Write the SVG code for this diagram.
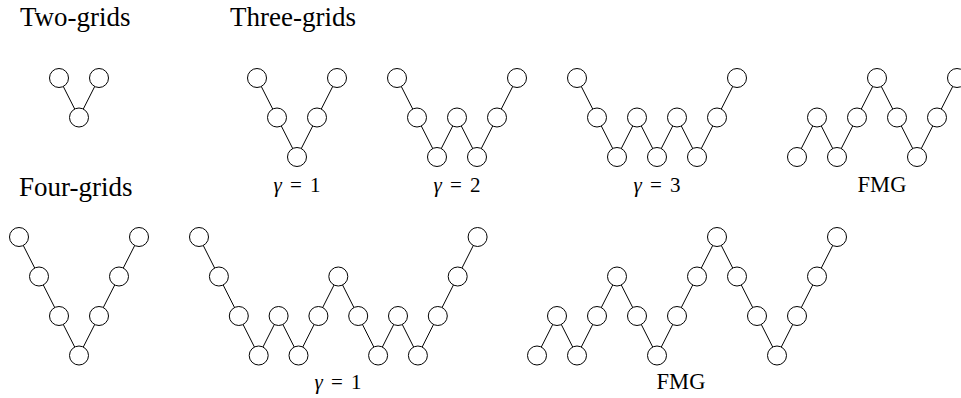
<svg xmlns="http://www.w3.org/2000/svg" width="961" height="398" viewBox="0 0 961 398">
<style>
.n{fill:#fff;stroke:#000;stroke-width:1}
.e{stroke:#000;stroke-width:1;fill:none}
.h{font-family:"Liberation Serif",serif;font-size:27px;fill:#000}
.l{font-family:"Liberation Serif",serif;font-size:21px;fill:#000;text-anchor:middle}
.f{font-size:22.5px}
.g{font-style:italic}
</style>
<rect width="961" height="398" fill="#fff"/>
<g id="headings">
<text class="h" x="20" y="26">Two-grids</text>
<text class="h" x="230" y="26">Three-grids</text>
<text class="h" x="19" y="196">Four-grids</text>
</g>
<g id="connectors">
<polyline class="e" points="59,78 79,117.5 99,78"/>
<polyline class="e" points="257,78 277,117.5 297,157 317,117.5 337,78"/>
<polyline class="e" points="397,78 417,117.5 437,157 457,117.5 477,157 497,117.5 517,78"/>
<polyline class="e" points="577,78 597,117.5 617,157 637,117.5 657,157 677,117.5 697,157 717,117.5 737,78"/>
<polyline class="e" points="797,157 817,117.5 837,157 857,117.5 877,78 897,117.5 917,157 937,117.5 957,78"/>
<polyline class="e" points="19,237 39,276.5 59,316 79,355.5 99,316 119,276.5 139,237"/>
<polyline class="e" points="199,237 218.9,276.5 238.8,316 258.7,355.5 278.6,316 298.5,355.5 318.4,316 338.3,276.5 358.2,316 378.1,355.5 398,316 417.9,355.5 437.8,316 457.7,276.5 477.6,237"/>
<polyline class="e" points="537,355.5 557,316 577,355.5 597,316 617,276.5 637,316 657,355.5 677,316 697,276.5 717,237 737,276.5 757,316 777,355.5 797,316 817,276.5 837,237"/>
</g>
<g id="two-grids">
<g id="t2-1"><circle class="n" cx="59" cy="78" r="9.5"/></g>
<g id="t2-2"><circle class="n" cx="79" cy="117.5" r="9.5"/></g>
<g id="t2-3"><circle class="n" cx="99" cy="78" r="9.5"/></g>
</g>
<g id="three-v">
<g id="v3-1"><circle class="n" cx="257" cy="78" r="9.5"/></g>
<g id="v3-2"><circle class="n" cx="277" cy="117.5" r="9.5"/></g>
<g id="v3-3"><circle class="n" cx="297" cy="157" r="9.5"/></g>
<g id="v3-4"><circle class="n" cx="317" cy="117.5" r="9.5"/></g>
<g id="v3-5"><circle class="n" cx="337" cy="78" r="9.5"/></g>
</g>
<g id="three-w2">
<g id="w2-1"><circle class="n" cx="397" cy="78" r="9.5"/></g>
<g id="w2-2"><circle class="n" cx="417" cy="117.5" r="9.5"/></g>
<g id="w2-3"><circle class="n" cx="437" cy="157" r="9.5"/></g>
<g id="w2-4"><circle class="n" cx="457" cy="117.5" r="9.5"/></g>
<g id="w2-5"><circle class="n" cx="477" cy="157" r="9.5"/></g>
<g id="w2-6"><circle class="n" cx="497" cy="117.5" r="9.5"/></g>
<g id="w2-7"><circle class="n" cx="517" cy="78" r="9.5"/></g>
</g>
<g id="three-w3">
<g id="w3-1"><circle class="n" cx="577" cy="78" r="9.5"/></g>
<g id="w3-2"><circle class="n" cx="597" cy="117.5" r="9.5"/></g>
<g id="w3-3"><circle class="n" cx="617" cy="157" r="9.5"/></g>
<g id="w3-4"><circle class="n" cx="637" cy="117.5" r="9.5"/></g>
<g id="w3-5"><circle class="n" cx="657" cy="157" r="9.5"/></g>
<g id="w3-6"><circle class="n" cx="677" cy="117.5" r="9.5"/></g>
<g id="w3-7"><circle class="n" cx="697" cy="157" r="9.5"/></g>
<g id="w3-8"><circle class="n" cx="717" cy="117.5" r="9.5"/></g>
<g id="w3-9"><circle class="n" cx="737" cy="78" r="9.5"/></g>
</g>
<g id="three-fmg">
<g id="f3-1"><circle class="n" cx="797" cy="157" r="9.5"/></g>
<g id="f3-2"><circle class="n" cx="817" cy="117.5" r="9.5"/></g>
<g id="f3-3"><circle class="n" cx="837" cy="157" r="9.5"/></g>
<g id="f3-4"><circle class="n" cx="857" cy="117.5" r="9.5"/></g>
<g id="f3-5"><circle class="n" cx="877" cy="78" r="9.5"/></g>
<g id="f3-6"><circle class="n" cx="897" cy="117.5" r="9.5"/></g>
<g id="f3-7"><circle class="n" cx="917" cy="157" r="9.5"/></g>
<g id="f3-8"><circle class="n" cx="937" cy="117.5" r="9.5"/></g>
<g id="f3-9"><circle class="n" cx="957" cy="78" r="9.5"/></g>
</g>
<g id="four-v">
<g id="v4-1"><circle class="n" cx="19" cy="237" r="9.5"/></g>
<g id="v4-2"><circle class="n" cx="39" cy="276.5" r="9.5"/></g>
<g id="v4-3"><circle class="n" cx="59" cy="316" r="9.5"/></g>
<g id="v4-4"><circle class="n" cx="79" cy="355.5" r="9.5"/></g>
<g id="v4-5"><circle class="n" cx="99" cy="316" r="9.5"/></g>
<g id="v4-6"><circle class="n" cx="119" cy="276.5" r="9.5"/></g>
<g id="v4-7"><circle class="n" cx="139" cy="237" r="9.5"/></g>
</g>
<g id="four-w">
<g id="w4-1"><circle class="n" cx="199" cy="237" r="9.5"/></g>
<g id="w4-2"><circle class="n" cx="218.9" cy="276.5" r="9.5"/></g>
<g id="w4-3"><circle class="n" cx="238.8" cy="316" r="9.5"/></g>
<g id="w4-4"><circle class="n" cx="258.7" cy="355.5" r="9.5"/></g>
<g id="w4-5"><circle class="n" cx="278.6" cy="316" r="9.5"/></g>
<g id="w4-6"><circle class="n" cx="298.5" cy="355.5" r="9.5"/></g>
<g id="w4-7"><circle class="n" cx="318.4" cy="316" r="9.5"/></g>
<g id="w4-8"><circle class="n" cx="338.3" cy="276.5" r="9.5"/></g>
<g id="w4-9"><circle class="n" cx="358.2" cy="316" r="9.5"/></g>
<g id="w4-10"><circle class="n" cx="378.1" cy="355.5" r="9.5"/></g>
<g id="w4-11"><circle class="n" cx="398" cy="316" r="9.5"/></g>
<g id="w4-12"><circle class="n" cx="417.9" cy="355.5" r="9.5"/></g>
<g id="w4-13"><circle class="n" cx="437.8" cy="316" r="9.5"/></g>
<g id="w4-14"><circle class="n" cx="457.7" cy="276.5" r="9.5"/></g>
<g id="w4-15"><circle class="n" cx="477.6" cy="237" r="9.5"/></g>
</g>
<g id="four-fmg">
<g id="f4-1"><circle class="n" cx="537" cy="355.5" r="9.5"/></g>
<g id="f4-2"><circle class="n" cx="557" cy="316" r="9.5"/></g>
<g id="f4-3"><circle class="n" cx="577" cy="355.5" r="9.5"/></g>
<g id="f4-4"><circle class="n" cx="597" cy="316" r="9.5"/></g>
<g id="f4-5"><circle class="n" cx="617" cy="276.5" r="9.5"/></g>
<g id="f4-6"><circle class="n" cx="637" cy="316" r="9.5"/></g>
<g id="f4-7"><circle class="n" cx="657" cy="355.5" r="9.5"/></g>
<g id="f4-8"><circle class="n" cx="677" cy="316" r="9.5"/></g>
<g id="f4-9"><circle class="n" cx="697" cy="276.5" r="9.5"/></g>
<g id="f4-10"><circle class="n" cx="717" cy="237" r="9.5"/></g>
<g id="f4-11"><circle class="n" cx="737" cy="276.5" r="9.5"/></g>
<g id="f4-12"><circle class="n" cx="757" cy="316" r="9.5"/></g>
<g id="f4-13"><circle class="n" cx="777" cy="355.5" r="9.5"/></g>
<g id="f4-14"><circle class="n" cx="797" cy="316" r="9.5"/></g>
<g id="f4-15"><circle class="n" cx="817" cy="276.5" r="9.5"/></g>
<g id="f4-16"><circle class="n" cx="837" cy="237" r="9.5"/></g>
</g>
<g id="labels">
<text class="l" x="297" y="191.5" word-spacing="3"><tspan class="g">γ</tspan> = 1</text>
<text class="l" x="457" y="191.5" word-spacing="3"><tspan class="g">γ</tspan> = 2</text>
<text class="l" x="657" y="191.5" word-spacing="3"><tspan class="g">γ</tspan> = 3</text>
<text class="l f" x="882" y="191.5">FMG</text>
<text class="l" x="338" y="389" word-spacing="3"><tspan class="g">γ</tspan> = 1</text>
<text class="l f" x="681" y="389">FMG</text>
</g>
</svg>
